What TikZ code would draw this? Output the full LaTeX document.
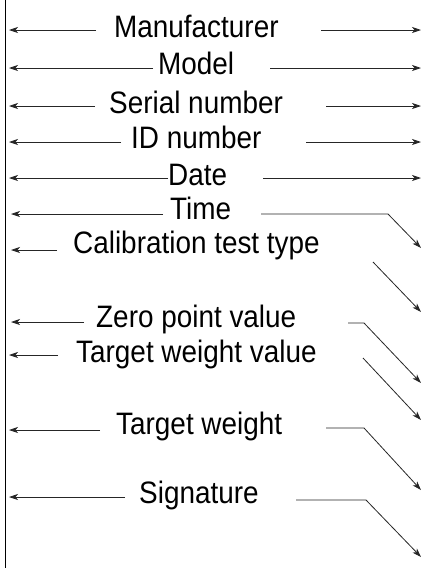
\documentclass[tikz,border=0pt]{standalone}
\usepackage{fontspec}
\setmainfont{Liberation Sans}[FakeStretch=0.9]
\usetikzlibrary{arrows.meta}
\begin{document}
\begin{tikzpicture}[x=1pt,y=-1pt,
  lbl/.style={anchor=base west,inner sep=0pt,font=\fontsize{31}{33}\selectfont},
  arr/.style={-{Stealth[length=9pt,width=6pt,inset=2.5pt]},line width=0.8pt,draw=black!85}]
\useasboundingbox (0,0) rectangle (422,568);
\coordinate (top) at (5.5,0);
\coordinate (bot) at (5.5,568);
\draw[line width=0.9pt] (top) -- (bot);
% texts
\node[lbl] (t1) at (114,37.3) {Manufacturer};
\node[lbl] (t2) at (158,74) {Model};
\node[lbl] (t3) at (109,113) {Serial number};
\node[lbl] (t4) at (131,148) {ID number};
\node[lbl] (t5) at (168,185) {Date};
\node[lbl] (t6) at (170,219) {Time};
\node[lbl] (t7) at (73,253.5) {Calibration test type};
\node[lbl] (t8) at (96,327) {Zero point value};
\node[lbl] (t9) at (76,362) {Target weight value};
\node[lbl] (t10) at (116,434) {Target weight};
\node[lbl] (t11) at (139,503) {Signature};
% left arrows
\coordinate (a1s) at (96,30);  \coordinate (a1e) at (9,30);
\coordinate (a2s) at (153,68); \coordinate (a2e) at (9,68);
\coordinate (a3s) at (95,106); \coordinate (a3e) at (9,106);
\coordinate (a4s) at (121,142);\coordinate (a4e) at (9,142);
\coordinate (a5s) at (168,178);\coordinate (a5e) at (9,178);
\coordinate (a6s) at (163,214);\coordinate (a6e) at (11,214);
\coordinate (a7s) at (57,250); \coordinate (a7e) at (11,250);
\coordinate (a8s) at (84,322); \coordinate (a8e) at (11,322);
\coordinate (a9s) at (58,355); \coordinate (a9e) at (9,355);
\coordinate (a10s) at (100,430);\coordinate (a10e) at (9,430);
\coordinate (a11s) at (125,497);\coordinate (a11e) at (9,497);
\foreach \i in {1,...,11} \draw[arr] (a\i s) -- (a\i e);
% right arrows
\coordinate (b1s) at (321,30);  \coordinate (b1e) at (421,30);
\coordinate (b2s) at (270,68);  \coordinate (b2e) at (421,68);
\coordinate (b3s) at (326,106); \coordinate (b3e) at (421,106);
\coordinate (b4s) at (306,142); \coordinate (b4e) at (421,142);
\coordinate (b5s) at (263,178); \coordinate (b5e) at (421,178);
\foreach \i in {1,...,5} \draw[arr] (b\i s) -- (b\i e);
\coordinate (b6s) at (261,214); \coordinate (b6m) at (388,214); \coordinate (b6e) at (421,248);
\draw[arr] (b6s) -- (b6m) -- (b6e);
\coordinate (b7s) at (373,262); \coordinate (b7e) at (421,312);
\draw[arr] (b7s) -- (b7e);
\coordinate (b8s) at (348,323); \coordinate (b8m) at (364,323); \coordinate (b8e) at (421,383);
\draw[arr] (b8s) -- (b8m) -- (b8e);
\coordinate (b9s) at (363,358); \coordinate (b9e) at (421,420);
\draw[arr] (b9s) -- (b9e);
\coordinate (b10s) at (326,428); \coordinate (b10m) at (364,428); \coordinate (b10e) at (421,490);
\draw[arr] (b10s) -- (b10m) -- (b10e);
\coordinate (b11s) at (296,500); \coordinate (b11m) at (366,500); \coordinate (b11e) at (421,557);
\draw[arr] (b11s) -- (b11m) -- (b11e);
\end{tikzpicture}
\end{document}
